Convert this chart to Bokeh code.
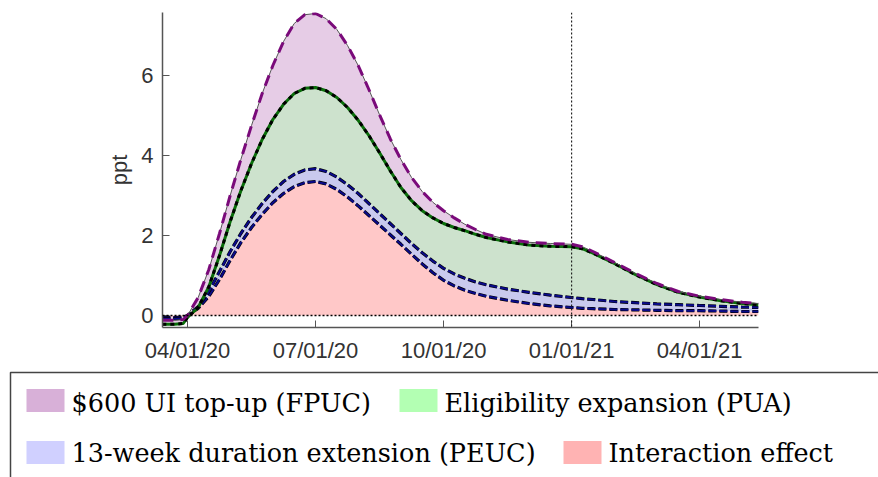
from bokeh.plotting import figure
from bokeh.models import Range1d, FixedTicker, Span, ColumnDataSource
from bokeh.layouts import column
from bokeh.core.properties import value
from bokeh.embed import file_html
from bokeh.resources import INLINE

# months since 04/01/20
months = [-0.59, -0.3, -0.1, 0.0, 0.25, 0.5, 0.75, 1.0, 1.25, 1.5, 1.75, 2.0, 2.25, 2.5,
          2.75, 3.0, 3.25, 3.5, 3.75, 4.0, 4.25, 4.5, 4.75, 5.0, 5.25, 5.5, 5.75, 6.0,
          6.25, 6.5, 6.75, 7.0, 7.5, 8.0, 8.5, 9.0, 9.25, 9.5, 10.0, 10.5, 11.0, 11.5,
          12.0, 12.5, 13.0, 13.38]

# cumulative levels (ppt)
interaction_top = [-0.05, -0.05, -0.04, 0.0, 0.18, 0.48, 0.9, 1.38, 1.82, 2.2, 2.53, 2.82,
                   3.05, 3.22, 3.32, 3.35, 3.29, 3.15, 2.96, 2.74, 2.5, 2.26, 2.02, 1.78,
                   1.53, 1.29, 1.07, 0.88, 0.74, 0.63, 0.55, 0.48, 0.38, 0.3, 0.24, 0.2,
                   0.18, 0.17, 0.15, 0.14, 0.13, 0.12, 0.12, 0.11, 0.1, 0.1]
peuc_top = [-0.08, -0.08, -0.07, 0.0, 0.22, 0.6, 1.1, 1.6, 2.05, 2.45, 2.8, 3.1, 3.35,
            3.53, 3.64, 3.67, 3.6, 3.46, 3.27, 3.05, 2.8, 2.55, 2.3, 2.05, 1.8, 1.57,
            1.36, 1.18, 1.04, 0.93, 0.84, 0.77, 0.66, 0.58, 0.51, 0.45, 0.42, 0.4, 0.35,
            0.32, 0.29, 0.27, 0.25, 0.23, 0.21, 0.2]
pua_top = [-0.22, -0.22, -0.2, -0.05, 0.2, 0.72, 1.5, 2.35, 3.12, 3.8, 4.4, 4.9, 5.28,
           5.55, 5.68, 5.7, 5.62, 5.45, 5.2, 4.88, 4.5, 4.07, 3.62, 3.2, 2.87, 2.62,
           2.44, 2.3, 2.2, 2.12, 2.03, 1.95, 1.84, 1.76, 1.73, 1.72, 1.67, 1.56, 1.3,
           1.02, 0.77, 0.58, 0.46, 0.37, 0.3, 0.27]
fpuc_top = [-0.12, -0.12, -0.1, 0.0, 0.45, 1.15, 2.05, 3.0, 3.9, 4.75, 5.55, 6.25, 6.85,
            7.3, 7.52, 7.55, 7.42, 7.15, 6.75, 6.25, 5.65, 5.02, 4.42, 3.9, 3.45, 3.1,
            2.83, 2.62, 2.44, 2.28, 2.15, 2.03, 1.9, 1.83, 1.8, 1.78, 1.72, 1.6, 1.33,
            1.05, 0.8, 0.6, 0.48, 0.4, 0.33, 0.3]

tick_months = [0, 3, 6, 9, 12]
tick_labels = ["04/01/20", "07/01/20", "10/01/20", "01/01/21", "04/01/21"]
y_ticks = [0, 2, 4, 6]
legend_labels = ["$600 UI top-up (FPUC)", "Eligibility expansion (PUA)",
                 "13-week duration extension (PEUC)", "Interaction effect"]
legend_colors = ["#D8B0D8", "#B3FFB3", "#D0D0FF", "#FFB3B3"]
fill_colors = ["#E6CCE6", "#CDE2CD", "#C9C9EE", "#FFC8C8"]

src = ColumnDataSource(dict(x=months, zero=[0.0] * len(months), r=interaction_top,
                            b=peuc_top, g=pua_top, p=fpuc_top))

p = figure(width=878, height=370, output_backend="svg", toolbar_location=None,
           x_range=Range1d(-0.586, 13.38), y_range=Range1d(-0.3, 7.575),
           min_border_left=162, min_border_right=120, min_border_top=12,
           min_border_bottom=43)
p.frame_align = False
p.outline_line_color = None
p.grid.visible = False
p.background_fill_color = "white"

p.varea(x="x", y1="zero", y2="r", source=src, fill_color=fill_colors[3])
p.varea(x="x", y1="r", y2="b", source=src, fill_color=fill_colors[2])
p.varea(x="x", y1="b", y2="g", source=src, fill_color=fill_colors[1])
p.varea(x="x", y1="g", y2="p", source=src, fill_color=fill_colors[0])

p.add_layout(Span(location=0, dimension="width", line_color="black",
                  line_dash="2 2", line_width=1.6))
p.add_layout(Span(location=9, dimension="height", line_color="#222222",
                  line_dash="2 2", line_width=1.2))

# interaction top
p.line(x="x", y="r", source=src, line_color="black", line_width=3.2, line_dash="8 3")
p.line(x="x", y="r", source=src, line_color="#0a0a8a", line_width=2, line_dash="8 3")
# PEUC top
p.line(x="x", y="b", source=src, line_color="black", line_width=3.2, line_dash="8 3")
p.line(x="x", y="b", source=src, line_color="#0a0a8a", line_width=2, line_dash="8 3")
# PUA top
p.line(x="x", y="g", source=src, line_color="#0a6e0a", line_width=3)
p.line(x="x", y="g", source=src, line_color="black", line_width=3, line_dash="4 4")
# FPUC top
p.line(x="x", y="p", source=src, line_color="#555555", line_width=1)
p.line(x="x", y="p", source=src, line_color="#7a0a7a", line_width=3, line_dash="11 7")

for ax in (p.xaxis[0], p.yaxis[0]):
    ax.axis_line_color = "#555555"
    ax.axis_line_width = 1.5
    ax.major_tick_line_color = "#555555"
    ax.major_tick_in = 7
    ax.major_tick_out = 0
    ax.minor_tick_line_color = None
    ax.major_label_text_font = "Liberation Sans"
    ax.major_label_text_font_size = "22px"
    ax.major_label_text_color = "#333333"

p.xaxis.ticker = FixedTicker(ticks=tick_months)
p.xaxis.major_label_overrides = {m: l for m, l in zip(tick_months, tick_labels)}
p.xaxis.major_label_standoff = 10
p.yaxis.ticker = FixedTicker(ticks=y_ticks)
p.yaxis.major_label_standoff = 9
p.yaxis.axis_label = "ppt"
p.yaxis.axis_label_text_font = "Liberation Sans"
p.yaxis.axis_label_text_font_size = "22px"
p.yaxis.axis_label_text_font_style = "normal"
p.yaxis.axis_label_text_color = "#333333"
p.yaxis.axis_label_standoff = 6

# legend panel (coordinates in pixels of this panel)
lg = figure(width=878, height=107, output_backend="svg", toolbar_location=None,
            x_range=Range1d(0, 878), y_range=Range1d(107, 0),
            min_border=0)
lg.frame_align = False
lg.outline_line_color = None
lg.axis.visible = False
lg.grid.visible = False
lg.line(x=[10, 10, 878], y=[107, 2, 2], line_color="#444444", line_width=1.5)

leg_x = [26, 399, 26, 563]
patch_y = [30, 30, 82, 82]
text_y = [32, 32, 82, 82]
lsrc = ColumnDataSource(dict(x=[v + 19 for v in leg_x], y=patch_y, ty=text_y,
                             c=legend_colors, tx=[v + 45 for v in leg_x], t=legend_labels))
lg.rect(x="x", y="y", width=38, height=23, source=lsrc, fill_color="c", line_color=None)
lg.text(x="tx", y="ty", text="t", source=lsrc, text_font=value("DejaVu Serif"),
        text_font_size="25.5px", text_baseline="middle", text_align="left",
        text_color="black")

layout = column(p, lg, spacing=0)
open("out.html", "w").write(file_html(layout, INLINE))
